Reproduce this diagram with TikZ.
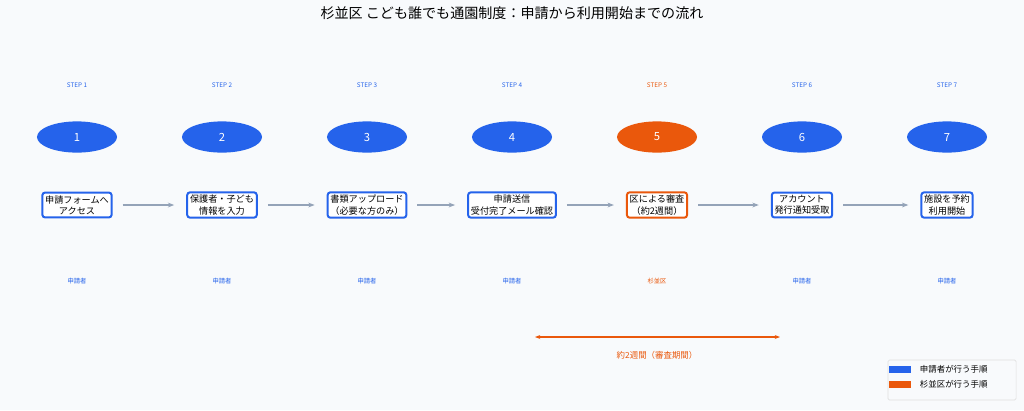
\documentclass[tikz,border=0pt]{standalone}
\usepackage{fontspec}
\setmainfont{Noto Sans CJK JP}
\usetikzlibrary{arrows.meta, shapes.geometric}
\definecolor{bg}{HTML}{F8FAFC}
\definecolor{userblue}{HTML}{2563EB}
\definecolor{wardorange}{HTML}{EA580C}
\definecolor{flowgray}{HTML}{94A3B8}
\definecolor{roleblue}{HTML}{3B82F6}
\tikzstyle{num} = [ellipse, minimum width=2cm, minimum height=0.78cm, text=white, font=\fontsize{8}{9}\selectfont]
\tikzstyle{task} = [rectangle, rounded corners=2pt, draw, fill=white, line width=0.5mm,
                    align=center, inner sep=2pt, font=\fontsize{6.5}{8}\selectfont]
\tikzstyle{tag} = [font=\fontsize{4.5}{5}\selectfont]
\tikzstyle{flow} = [line width=0.4mm, flowgray, -{Stealth[length=1.6mm]}, shorten <=0.25cm, shorten >=0.3cm]
\begin{document}
\begin{tikzpicture}[x=0.025cm, y=-0.025cm]
  \fill[bg] (0,0) rectangle (1024,410);
  \useasboundingbox (0,0) rectangle (1024,410);
  \node (title) at (512,13) {\fontsize{10}{12}\selectfont 杉並区 こども誰でも通園制度：申請から利用開始までの流れ};

  \foreach \i/\txt/\col/\who in {1/{申請フォームへ\\アクセス}/userblue/申請者,
                                 2/{保護者・子ども\\情報を入力}/userblue/申請者,
                                 3/{書類アップロード\\（必要な方のみ）}/userblue/申請者,
                                 4/{申請送信\\受付完了メール確認}/userblue/申請者,
                                 5/{区による審査\\（約2週間）}/wardorange/杉並区,
                                 6/{アカウント\\発行通知受取}/userblue/申請者,
                                 7/{施設を予約\\利用開始}/userblue/申請者} {
    \node[tag, text=\col] (step\i) at ({77+145*(\i-1)},85) {STEP \i};
    \node[num, fill=\col] (num\i) at ({77+145*(\i-1)},137) {\i};
    \node[task, draw=\col] (box\i) at ({77+145*(\i-1)},205) {\txt};
    \node[tag, text=\col] (role\i) at ({77+145*(\i-1)},281) {\who};
  }
  \foreach \i [evaluate=\i as \j using int(\i+1)] in {1,...,6}
    \draw[flow] (box\i.east) -- (box\j.west);

  % review period
  \coordinate (spanL) at (535,337);
  \coordinate (spanR) at (780,337);
  \draw[wardorange, line width=0.4mm, {Stealth[length=1.3mm]}-{Stealth[length=1.3mm]}] (spanL) -- (spanR);
  \node[tag, text=wardorange, font=\fontsize{6}{7}\selectfont] (spanlabel) at (657,355) {約2週間（審査期間）};

  % legend
  \node[draw=gray!25, fill=bg, rounded corners=1pt, minimum width=3.2cm, minimum height=1cm] (legend) at (952,380) {};
  \fill[userblue] (889,366) rectangle (911,373);
  \fill[wardorange] (889,381) rectangle (911,388);
  \node[anchor=west, font=\fontsize{6}{7}\selectfont] (leg1) at (915,369.5) {申請者が行う手順};
  \node[anchor=west, font=\fontsize{6}{7}\selectfont] (leg2) at (915,384.5) {杉並区が行う手順};
\end{tikzpicture}
\end{document}
